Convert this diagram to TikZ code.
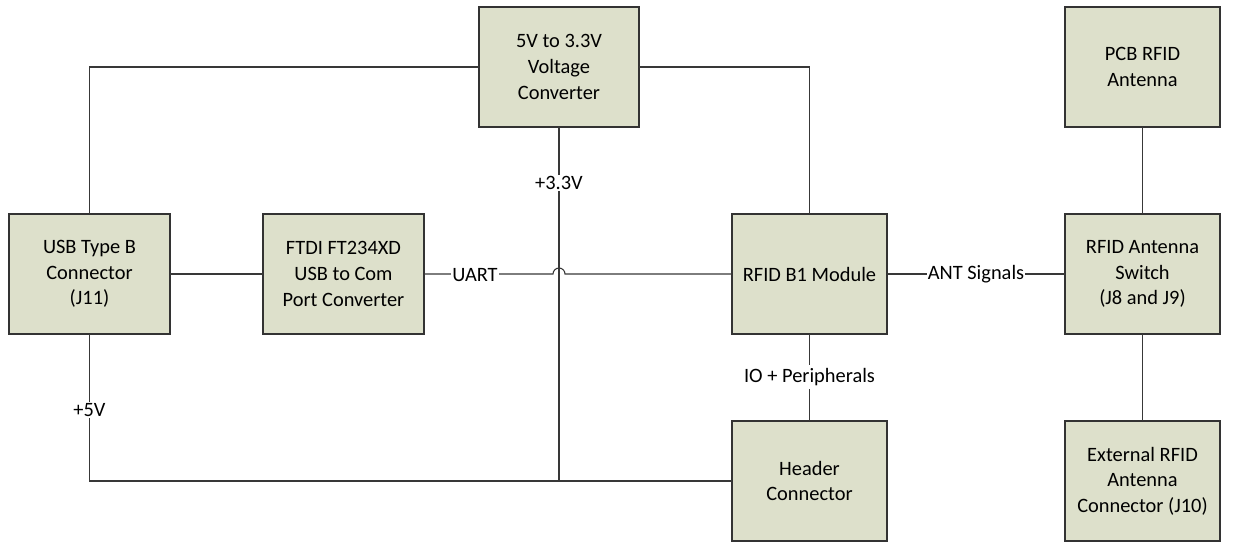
\documentclass[tikz,border=0pt]{standalone}
\usepackage{fontspec}
\setmainfont{Carlito}
\begin{document}
\begin{tikzpicture}[x=1pt,y=-1pt,
  blk/.style={draw=black!80,line width=1.1pt,fill=boxfill,rectangle,minimum height=120pt,align=center,
    font=\fontsize{20.4}{25.6}\selectfont,inner sep=2pt,outer sep=0pt},
  wide/.style={blk,minimum width=161pt},
  narrow/.style={blk,minimum width=155pt},
  wire/.style={draw=black!78,line width=1.1pt},
  lbl/.style={fill=white,inner sep=1pt,font=\fontsize{20.4}{25.6}\selectfont}]
\definecolor{boxfill}{HTML}{DDE0CB}
\useasboundingbox (0,0) rectangle (1241,542);
\node[wide] (usb) at (89.5,274) {USB Type B\\Connector\\(J11)};
\node[wide] (ftdi) at (343.5,274) {FTDI FT234XD\\USB to Com\\Port Converter};
\node[blk,minimum width=160pt] (conv) at (559,67) {5V to 3.3V\\Voltage\\Converter};
\node[narrow] (rfid) at (809.5,274) {RFID B1 Module};
\node[narrow] (hdr) at (809.5,481) {Header\\Connector};
\node[narrow] (sw) at (1142.5,274) {RFID Antenna\\Switch\\(J8 and J9)};
\node[narrow] (ext) at (1142.5,481) {External RFID\\Antenna\\Connector (J10)};
\node[narrow] (pcb) at (1142.5,67) {PCB RFID\\Antenna};
% wires
\draw[wire] (usb.north) |- (conv.west);
\draw[wire] (conv.east) -| (rfid.north);
\draw[wire] (usb.east) -- (ftdi.west);
\coordinate (hop) at (conv.south |- ftdi.east);
\draw[wire] (ftdi.east) -- ([xshift=-6pt]hop) arc[start angle=180,end angle=0,radius=6pt] -- (rfid.west);
\node[lbl] (uart) at (475,275) {UART};
\draw[wire] (conv.south) -- (conv.south |- hdr.west);
\node[lbl] (v33) at (559,183) {+3.3V};
\draw[wire] (usb.south) |- (hdr.west);
\node[lbl] (v5) at (89.5,410) {+5V};
\draw[wire] (rfid.south) -- (hdr.north);
\node[lbl,inner sep=3pt] (io) at (809.5,377) {IO + Peripherals};
\draw[wire] (rfid.east) -- (sw.west);
\node[lbl] (ant) at (976,274) {ANT Signals};
\draw[wire] (pcb.south) -- (sw.north);
\draw[wire] (sw.south) -- (ext.north);
\end{tikzpicture}
\end{document}
